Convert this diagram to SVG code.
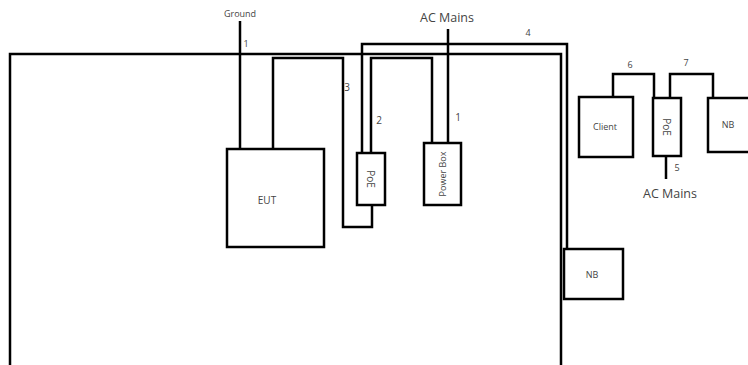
<svg xmlns="http://www.w3.org/2000/svg" width="748" height="365" viewBox="0 0 748 365">
<style>
.w{fill:none;stroke:#000;stroke-width:2.5;stroke-linejoin:miter}
.b{fill:#fff;stroke:#000;stroke-width:2.5}
.t{font-family:"Open Sans","Noto Sans",sans-serif;fill:#444;text-anchor:middle}
.s{font-size:9px}
.m{font-size:10px}
.l{font-size:12.5px}
</style>
<rect width="748" height="365" fill="#fff"/>
<g id="connectors">
<path class="w" d="M10,365 V54 H561 V365"/>
<path class="w" d="M240,21 V149"/>
<path class="w" d="M273,149 V58 H343 V227 H372 V205"/>
<path class="w" d="M371,153 V58 H432 V143"/>
<path class="w" d="M448,29 V143"/>
<path class="w" d="M362,153 V44 H567 V249"/>
<path class="w" d="M613,97 V74 H654 V98"/>
<path class="w" d="M670,98 V74 H713 V98"/>
<path class="w" d="M666,156 V179"/>
</g>
<g id="labels">
<text class="t s" x="240" y="17">Ground</text>
<text class="t s" x="246" y="47">1</text>
<text class="t l" x="447" y="22">AC Mains</text>
<text class="t s" x="528" y="36">4</text>
<text class="t m" x="347" y="91">3</text>
<text class="t m" x="379" y="124">2</text>
<text class="t m" x="458" y="121">1</text>
<text class="t s" x="630" y="68">6</text>
<text class="t s" x="686" y="66">7</text>
<text class="t s" x="677" y="171">5</text>
<text class="t l" x="670" y="198">AC Mains</text>
</g>
<g id="eut">
<rect class="b" x="227" y="149" width="97" height="98"/>
<text class="t m" x="267" y="204">EUT</text>
</g>
<g id="poe1">
<rect class="b" x="357" y="153" width="28" height="52"/>
<text class="t m" transform="translate(367,179) rotate(90)" x="0" y="0">PoE</text>
</g>
<g id="powerbox">
<rect class="b" x="424" y="143" width="37" height="62"/>
<text class="t s" transform="translate(446,174) rotate(-90)" x="0" y="0">Power Box</text>
</g>
<g id="nb1">
<rect class="b" x="564" y="249" width="59" height="50"/>
<text class="t s" x="592" y="278">NB</text>
</g>
<g id="client">
<rect class="b" x="579" y="97" width="54" height="60"/>
<text class="t s" x="605" y="130">Client</text>
</g>
<g id="poe2">
<rect class="b" x="653" y="98" width="28" height="58"/>
<text class="t m" transform="translate(663,127) rotate(90)" x="0" y="0">PoE</text>
</g>
<g id="nb2">
<rect class="b" x="708" y="98" width="45" height="54"/>
<text class="t s" x="728" y="128">NB</text>
</g>
</svg>
